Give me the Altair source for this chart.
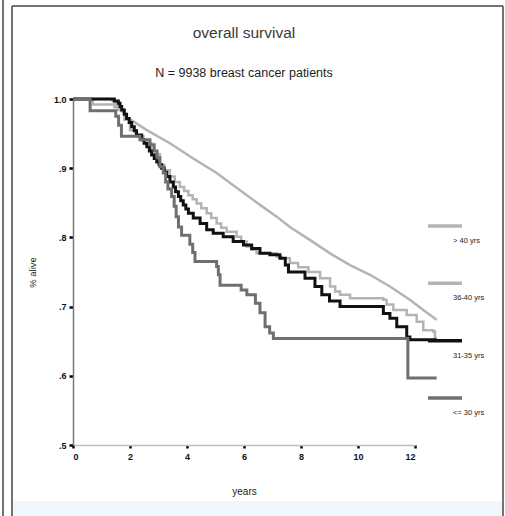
import altair as alt
import pandas as pd

# ---- data (Kaplan-Meier curves) ----
title_text = "overall survival"
subtitle_text = "N = 9938 breast cancer patients"
grp_labels = ["> 40 yrs", "36-40 yrs", "31-35 yrs", "<= 30 yrs"]
grp_colors = ["#b4b4b4", "#b4b4b4", "#111111", "#6f6f6f"]

t_gt40 = [0, 1.3, 1.47, 1.88, 2.59, 3.40, 4.22, 5.04, 5.86, 6.56, 7.15, 7.61,
          8.32, 9.02, 9.72, 10.42, 11.12, 11.82, 12.29, 12.76]
s_gt40 = [1.0, 1.0, .995, .974, .955, .936, .914, .893, .868, .847, .830, .815,
          .796, .777, .760, .746, .729, .710, .695, .681]

t_36 = [0, 0.7, 1.45, 1.59, 1.8, 2.0, 2.2, 2.47, 2.75, 3.05, 3.2, 3.40, 3.57, 3.75,
        3.9, 4.05, 4.2, 4.34, 4.5, 4.69, 4.85, 5.04, 5.2, 5.39, 5.74, 5.9, 6.09,
        6.25, 6.44, 7.15, 7.32, 7.61, 7.9, 8.26, 8.67, 9.02, 9.2, 9.37, 9.72,
        10.89, 11.0, 11.24, 11.71, 12.06, 12.29, 12.64, 12.70, 12.76]
s_36 = [1.0, .992, .988, .984, .970, .955, .946, .936, .920, .905, .897, .888,
        .880, .873, .867, .861, .855, .849, .842, .835, .828, .820, .814, .808,
        .801, .794, .787, .782, .777, .772, .770, .763, .757, .750, .741, .729,
        .722, .717, .712, .710, .703, .695, .688, .678, .666, .664, .655, .655]

t_31 = [0, 1.45, 1.59, 1.65, 1.71, 1.8, 1.88, 1.97, 2.06, 2.15, 2.23, 2.41, 2.5,
        2.59, 2.68, 2.76, 2.85, 2.94, 3.02, 3.11, 3.2, 3.29, 3.4, 3.52, 3.6, 3.70,
        3.78, 3.87, 3.96, 4.05, 4.22, 4.46, 4.69, 4.92, 5.27, 5.62, 5.98, 6.27,
        6.56, 6.91, 7.26, 7.45, 7.56, 8.14, 8.49, 8.73, 9.0, 9.37, 10.89, 11.12,
        11.36, 11.71, 11.82, 12.76]
s_31 = [1.0, .997, .994, .989, .984, .978, .972, .966, .960, .954, .948, .941,
        .936, .931, .925, .919, .914, .909, .905, .900, .894, .888, .880, .873,
        .866, .859, .853, .847, .841, .835, .828, .820, .811, .806, .801, .794,
        .789, .784, .777, .775, .770, .760, .750, .741, .729, .717, .708, .700,
        .690, .683, .671, .656, .652, .652]

t_30 = [0, 0.6, 1.5, 1.6, 1.7, 2.35, 2.7, 2.85, 2.95, 3.05, 3.17, 3.25, 3.33,
        3.46, 3.55, 3.62, 3.7, 3.81, 4.1, 4.2, 4.28, 5.04, 5.1, 5.16, 5.9, 6.1,
        6.4, 6.56, 6.74, 6.9, 7.03, 11.75, 12.76]
s_30 = [1.0, .983, .975, .962, .946, .941, .934, .925, .915, .902, .893, .880,
        .870, .859, .845, .830, .815, .803, .790, .778, .765, .758, .746, .731,
        .724, .717, .705, .691, .671, .662, .654, .597, .597]

x_ticks = [0, 2, 4, 6, 8, 10, 12]
y_ticks = [0.5, 0.6, 0.7, 0.8, 0.9, 1.0]

W, H = 342, 346
FONT = "Liberation Sans"

xs = alt.Scale(domain=[0, 12], nice=False, zero=False)
ys = alt.Scale(domain=[0.5, 1.0], nice=False, zero=False)

def curve(t, s, color, width, interp):
    df = pd.DataFrame({"t": t, "s": s})
    return alt.Chart(df).mark_line(
        color=color, strokeWidth=width, interpolate=interp, clip=False
    ).encode(
        x=alt.X("t:Q", scale=xs, axis=alt.Axis(
            values=x_ticks, title="years", grid=False,
            domainColor="#bdbdbd", domainWidth=1.5,
            tickColor="#000", tickSize=3, tickWidth=2.5,
            labelFont=FONT, labelFontSize=9, labelFontWeight="bold",
            labelColor="#111", labelPadding=4,
            titleFont=FONT, titleFontSize=10, titleFontWeight="normal",
            titleColor="#222", titleY=46, titleBaseline="middle")),
        y=alt.Y("s:Q", scale=ys, axis=alt.Axis(
            values=y_ticks, title="% alive", grid=False,
            labelExpr="datum.value >= 1 ? '1.0' : replace(format(datum.value, '.1f'), '0.', '.')",
            domainColor="#7a7a7a", domainWidth=1.5,
            tickColor="#000", tickSize=4, tickWidth=2.5,
            labelFont=FONT, labelFontSize=9, labelFontWeight="bold",
            labelColor="#111", labelPadding=3,
            titleFont=FONT, titleFontSize=9.5, titleFontWeight="normal",
            titleColor="#222", titleX=-41, titleY=H / 2,
            titleAlign="center", titleBaseline="middle")),
    )

c_gt40 = curve(t_gt40, s_gt40, grp_colors[0], 2.5, "linear")
c_36 = curve(t_36, s_36, grp_colors[1], 2.5, "step-after")
c_31 = curve(t_31, s_31, grp_colors[2], 3, "step-after")
c_30 = curve(t_30, s_30, grp_colors[3], 3, "step-after")

# ---- hand-made legend at the right ----
leg = pd.DataFrame({"label": grp_labels, "order": list(range(len(grp_labels))),
                    "color": grp_colors})
lscale = alt.Scale(domain=[0, 3], range=[127, 299])
leg_lines = alt.Chart(leg).mark_rule(strokeWidth=3.5).encode(
    x=alt.value(355), x2=alt.value(389),
    y=alt.Y("order:Q", scale=lscale, axis=None),
    color=alt.Color("color:N", scale=None, legend=None),
)
leg_text = alt.Chart(leg).mark_text(
    align="left", baseline="middle", dy=15, font=FONT, fontSize=7.5, color="#222"
).encode(
    x=alt.value(380),
    y=alt.Y("order:Q", scale=lscale, axis=None),
    text="label:N",
)

# ---- titles as text marks above the plot ----
ttl = pd.DataFrame({"title": [title_text], "subtitle": [subtitle_text]})
title_mark = alt.Chart(ttl).mark_text(
    align="center", baseline="middle", font=FONT, fontSize=15.5, color="#3a3a3a"
).encode(x=alt.value(W / 2), y=alt.value(-66), text="title:N")
subtitle_mark = alt.Chart(ttl).mark_text(
    align="center", baseline="middle", font=FONT, fontSize=12.5,
    color="#222"
).encode(x=alt.value(W / 2), y=alt.value(-26), text="subtitle:N")

# ---- frame lines around the panel and pale bottom strip ----
frame_df = pd.DataFrame({"k": ["frame"]})
def rule(**enc):
    return alt.Chart(frame_df).mark_rule(color="#444", strokeWidth=1.5).encode(**enc)

frame_top = rule(x=alt.value(-61), x2=alt.value(430), y=alt.value(-93))
frame_left = rule(x=alt.value(-61), y=alt.value(-93), y2=alt.value(417))
frame_right = rule(x=alt.value(430), y=alt.value(-93), y2=alt.value(417))
frame_outer = rule(x=alt.value(-70), y=alt.value(-99), y2=alt.value(417))
strip = alt.Chart(frame_df).mark_rect(color="#f1f7fc").encode(
    x=alt.value(-60), x2=alt.value(429), y=alt.value(402), y2=alt.value(417))

curves = alt.layer(c_gt40, c_36, c_31, c_30)
legend = alt.layer(leg_lines, leg_text)

chart = alt.layer(
    strip, curves, legend, title_mark, subtitle_mark,
    frame_top, frame_left, frame_right, frame_outer
).resolve_scale(y="independent").properties(
    width=W, height=H,
    autosize=alt.AutoSizeParams(type="none"),
    padding={"left": 73, "top": 99, "right": 90, "bottom": 71},
    background="white",
).configure_view(stroke=None)

chart.save("out.html", embed_options={"renderer": "svg", "actions": False})
